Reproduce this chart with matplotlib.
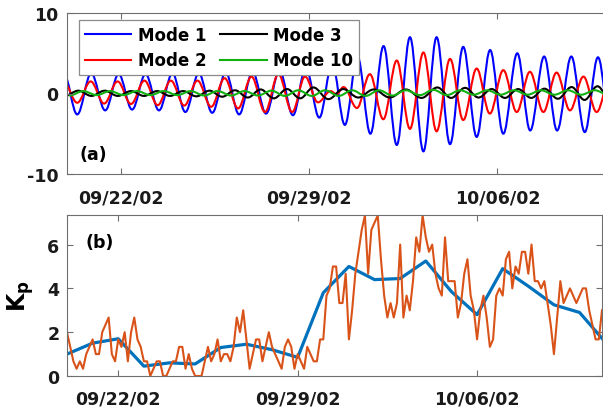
import numpy as np
import pandas as pd
import matplotlib
matplotlib.use("Agg")
import matplotlib.pyplot as plt
import matplotlib.dates as mdates
from matplotlib.path import Path
from matplotlib.patches import PathPatch
from matplotlib.lines import Line2D

plt.rcParams["font.family"] = ["DejaVu Sans"]
plt.rcParams["font.weight"] = "bold"
plt.rcParams["axes.unicode_minus"] = False
plt.rcParams["mathtext.fontset"] = "dejavusans"

START = "2002-09-20"

# ---- panel (a): oscillation modes, given as successive extrema (days after start, amplitude)
mode1_days = [-0.12, 0.38, 0.90, 1.42, 1.92, 2.42, 2.92, 3.42, 3.92, 4.40, 4.90, 5.40, 5.90,
              6.40, 6.90, 7.40, 7.90, 8.40, 8.88, 9.38, 9.86, 10.33, 10.80, 11.28, 11.77,
              12.26, 12.75, 13.25, 13.74, 14.24, 14.73, 15.23, 15.73, 16.22, 16.74, 17.22,
              17.74, 18.22, 18.75, 19.25, 19.74, 20.24, 20.74, 21.24]
mode1_vals = [2.5, -2.6, 2.5, -2.1, 2.4, -2.0, 2.4, -2.1, 2.5, -2.3, 2.5, -2.4, 2.6,
              -2.6, 2.7, -2.5, 2.9, -2.7, 3.2, -3.0, 3.7, -3.9, 4.6, -5.0, 5.9,
              -6.4, 7.0, -7.2, 7.0, -6.3, 5.8, -5.4, 5.4, -5.0, 5.0, -4.6,
              4.6, -4.6, 4.6, -4.8, 4.5, -5.0, 4.5, -5.0]

mode2_days = [-0.12, 0.38, 0.88, 1.38, 1.88, 2.38, 2.88, 3.37, 3.86, 4.36, 4.85, 5.36, 5.86,
              6.36, 6.86, 7.36, 7.86, 8.37, 8.85, 9.33, 9.80, 10.02, 10.28, 10.78, 11.26,
              11.76, 12.26, 12.75, 13.25, 13.74, 14.24, 14.73, 15.23, 15.72, 16.22, 16.72,
              17.21, 17.71, 18.20, 18.70, 19.20, 19.69, 20.20, 20.70, 21.20]
mode2_vals = [1.4, -1.15, 1.5, -1.25, 1.5, -1.3, 1.6, -1.45, 1.6, -1.5, 1.6, -1.65, 1.9,
              -1.85, 2.1, -2.3, 2.4, -2.3, 2.1, -1.1, 0.3, -0.1, 0.8, -1.8, 2.4,
              -3.2, 4.1, -4.4, 5.1, -4.7, 4.3, -3.3, 3.1, -2.5, 2.9, -2.3,
              2.7, -2.3, 2.6, -2.1, 2.1, -2.3, 2.1, -2.2, 2.1]

mode3_days = [-0.08, 0.42, 0.91, 1.40, 1.89, 2.38, 2.86, 3.35, 3.83, 4.32, 4.81, 5.30, 5.77,
              6.25, 6.72, 7.20, 7.69, 8.18, 8.67, 9.16, 9.72, 10.27, 10.83, 11.40, 12.00,
              12.60, 13.18, 13.77, 14.28, 14.80, 15.30, 15.79, 16.28, 16.77, 17.26, 17.75,
              18.25, 18.76, 19.24, 19.72, 20.21, 20.70, 21.20]
mode3_vals = [-0.3, 0.35, -0.3, 0.35, -0.3, 0.3, -0.3, 0.3, -0.3, 0.3, -0.35, 0.35, -0.4,
              0.4, -0.5, 0.5, -0.6, 0.55, -0.6, 0.75, -0.7, 0.55, -0.5, 0.5, -0.5,
              0.5, -0.55, 0.75, -0.55, 0.7, -0.5, 0.55, -0.55, 0.55, -0.55, 0.6,
              -0.65, 0.8, -0.8, 0.9, -0.9, 0.8, -0.8]

mode10_days = [0.10, 0.60, 1.10, 1.60, 2.10, 2.60, 3.10, 3.60, 4.10, 4.60, 5.10, 5.60, 6.10,
               6.60, 7.10, 7.60, 8.10, 8.60, 9.10, 9.60, 10.10, 10.60, 11.10, 11.60, 12.10,
               12.60, 13.12, 13.62, 14.12, 14.62, 15.12, 15.62, 16.12, 16.62, 17.12, 17.62,
               18.12, 18.62, 19.12, 19.62, 20.12, 20.62, 21.12]
mode10_vals = [-0.25, 0.3, -0.2, 0.3, -0.2, 0.3, -0.2, 0.3, -0.2, 0.3, -0.25, 0.3, -0.25,
               0.3, -0.25, 0.35, -0.3, 0.4, -0.3, 0.4, -0.3, 0.4, -0.3, 0.4, -0.25,
               0.4, -0.2, 0.45, -0.2, 0.4, -0.15, 0.4, -0.15, 0.4, -0.15, 0.4,
               -0.15, 0.4, -0.15, 0.4, -0.15, 0.4, -0.15]

mode_labels = ["Mode 1", "Mode 2", "Mode 3", "Mode 10"]
mode_colors = ["#0000FF", "#FF0000", "#000000", "#10B010"]

# ---- panel (b): 3-hourly Kp and its daily mean
kp_3h = [2.0, 1.33, 0.67, 0.33, 0.67, 0.33, 1.0, 1.33,
         1.67, 1.0, 1.0, 2.0, 2.33, 2.67, 1.0, 0.67,
         1.67, 1.33, 2.0, 0.67, 2.0, 2.67, 1.67, 1.33,
         0.67, 0.67, 0.0, 0.33, 0.67, 0.67, 0.0, 0.0,
         0.33, 0.67, 0.67, 1.33, 1.33, 0.33, 1.0, 0.33,
         0.0, 0.0, 0.0, 0.67, 1.33, 0.67, 1.0, 1.67,
         0.67, 1.0, 1.0, 0.67, 1.33, 2.67, 2.0, 3.0,
         1.67, 0.33, 1.0, 1.67, 1.67, 0.67, 1.33, 2.0,
         1.33, 1.0, 0.67, 0.33, 1.33, 1.67, 1.33, 0.33,
         1.0, 0.67, 0.33, 1.33, 1.0, 0.67, 0.67, 1.67,
         1.67, 3.67, 4.0, 5.0, 5.0, 3.33, 3.33, 4.67,
         1.67, 3.0, 4.67, 5.67, 6.67, 7.33, 4.67, 6.67,
         7.0, 7.33, 5.33, 3.67, 2.67, 3.33, 2.67, 3.33,
         6.0, 2.67, 3.67, 3.0, 4.33, 6.33, 5.67, 7.33,
         6.33, 5.67, 6.0, 4.67, 4.0, 3.67, 6.33, 4.33,
         4.33, 4.33, 2.67, 3.33, 4.67, 5.33, 3.67, 3.0,
         1.67, 3.0, 3.67, 2.67, 1.33, 1.67, 3.67, 4.0,
         3.67, 5.33, 5.67, 4.0, 5.0, 4.67, 5.67, 5.67,
         4.67, 6.0, 4.33, 4.33, 4.0, 4.33, 3.33, 2.33,
         1.0, 2.67, 4.33, 3.33, 3.67, 4.0, 3.67, 3.33,
         3.67, 4.0, 4.0, 3.0, 2.33, 1.67, 1.67, 3.0]
kp_daily = [1.0, 1.5, 1.7, 0.45, 0.6, 0.55, 1.3, 1.45, 1.2, 0.85, 3.8,
            5.0, 4.4, 4.45, 5.25, 3.85, 2.8, 4.9, 4.1, 3.25, 2.9, 1.55]

date_ticks = ["2002-09-22", "2002-09-29", "2002-10-06"]

W, H = 603, 414
fig = plt.figure(figsize=(W / 100, H / 100), dpi=100)

t_start = mdates.date2num(pd.Timestamp(START))
t_end = mdates.date2num(pd.Timestamp(START) + pd.Timedelta(hours=167 * 3))

def fig_rect(left, top, right, bottom):
    return [left / W, 1 - bottom / H, (right - left) / W, (bottom - top) / H]

ax1 = fig.add_axes(fig_rect(67, 14, 628.5, 175))
ax2 = fig.add_axes(fig_rect(67, 216, 602, 377))

spine_col = "#6e6e6e"
for ax in (ax1, ax2):
    ax.xaxis_date()
    ax.set_xlim(t_start, t_end)
    ax.xaxis.set_major_locator(mdates.DayLocator(bymonthday=(6, 22, 29)))
    ax.xaxis.set_major_formatter(mdates.DateFormatter("%m/%d/%y"))
    for s in ax.spines.values():
        s.set_color(spine_col)
        s.set_linewidth(0.8)
    ax.tick_params(direction="in", length=4, width=0.8, color=spine_col,
                   labelsize=12.5, labelcolor="#1a1a1a", top=True, right=True)


def wave(ax, days, vals, color, lw=1.5, k=0.3634):
    """Smooth curve through successive extrema using cubic Bezier segments."""
    x = t_start + np.asarray(days, dtype=float)
    y = np.asarray(vals, dtype=float)
    verts = [(x[0], y[0])]
    codes = [Path.MOVETO]
    for i in range(len(x) - 1):
        dx = x[i + 1] - x[i]
        verts += [(x[i] + k * dx, y[i]), (x[i + 1] - k * dx, y[i + 1]), (x[i + 1], y[i + 1])]
        codes += [Path.CURVE4] * 3
    ax.add_patch(PathPatch(Path(verts, codes), facecolor="none", edgecolor=color,
                           lw=lw, joinstyle="round", capstyle="round"))


for d, v, c in zip([mode1_days, mode2_days, mode3_days, mode10_days],
                   [mode1_vals, mode2_vals, mode3_vals, mode10_vals], mode_colors):
    wave(ax1, d, v, c)

ax1.set_ylim(-10, 10)
ax1.set_yticks([-10, 0, 10])
ax1.tick_params(axis="x", pad=10.5)
ax1.tick_params(axis="y", pad=6)
ax1.text(0.023, 0.125, "(a)", transform=ax1.transAxes, fontsize=12.5,
         fontweight="bold", va="center", ha="left")

handles = [Line2D([], [], color=c, lw=1.5) for c in mode_colors]
leg = ax1.legend(handles, mode_labels, ncol=2, loc="upper left",
                 bbox_to_anchor=(79 / W, 1 - 21 / H), bbox_transform=fig.transFigure,
                 borderaxespad=0, fancybox=False, framealpha=1, edgecolor="#8a8a8a",
                 prop={"size": 12, "weight": "bold"}, handlelength=2.8,
                 handletextpad=0.4, columnspacing=0.8, labelspacing=0.45,
                 borderpad=0.35)
leg.get_frame().set_linewidth(0.9)

# panel (b)
kp_times = pd.date_range(START, periods=len(kp_3h), freq="3h")
day_times = pd.date_range(START, periods=len(kp_daily), freq="D")
ax2.plot(day_times, kp_daily, color="#0072BD", lw=2.3, solid_joinstyle="round")
ax2.plot(kp_times, kp_3h, color="#D95319", lw=1.5, solid_joinstyle="round")
ax2.set_xlim(t_start, t_end)
ax2.set_ylim(0, 7.35)
ax2.set_yticks([0, 2, 4, 6])
ax2.tick_params(axis="x", pad=9.5)
ax2.tick_params(axis="y", pad=5.5)
ax2.text(0.034, 0.83, "(b)", transform=ax2.transAxes, fontsize=12.5,
         fontweight="bold", va="center", ha="left")
ax2.set_ylabel(r"$\mathbf{K_p}$", fontsize=17)
ax2.yaxis.set_label_coords((36 - 67) / 535, 0.5)

fig.savefig("out.png", dpi=100)
